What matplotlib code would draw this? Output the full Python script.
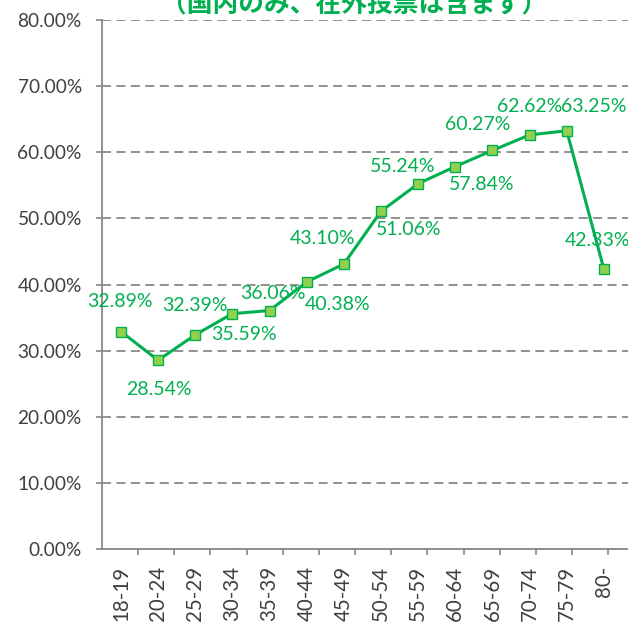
import numpy as np
import matplotlib.pyplot as plt
from matplotlib.ticker import FixedLocator

ages = ["18-19", "20-24", "25-29", "30-34", "35-39", "40-44", "45-49",
        "50-54", "55-59", "60-64", "65-69", "70-74", "75-79", "80-"]
turnout = [32.89, 28.54, 32.39, 35.59, 36.06, 40.38, 43.10,
           51.06, 55.24, 57.84, 60.27, 62.62, 63.25, 42.33]
title = "（国内のみ、在外投票は含まず）"

# label offsets from each marker, in pixels (right, down)
label_dx = [-1, 1, 0, 12, 3, 31, -21, 28, -15, 26, -15, 0, 27, -6]
label_dy = [-30, 29, -29, 21, -17, 23, -26, 18, -17, 18, -26, -28, -24, -29]

green = "#00B050"
light = "#92D050"
grey = "#888888"
txt = "#404040"
px = 0.72  # points per pixel at 100 dpi

plt.rcParams['font.family'] = ['Lato', 'DejaVu Sans']

fig = plt.figure(figsize=(6.28, 6.30), dpi=100)
ax = fig.add_axes([102 / 628, 1 - 549 / 630, 526 / 628, 529 / 630])

x = np.arange(len(ages))
ax.plot(x, turnout, color=green, lw=2.2, marker='s', ms=7.5,
        mfc=light, mec=green, mew=1, zorder=3, clip_on=False)

for xi, v, dx, dy in zip(x, turnout, label_dx, label_dy):
    ax.annotate(f"{v:.2f}%", (xi, v), xytext=(dx * px, -dy * px), textcoords='offset points',
                ha='center', va='center', color=green, fontsize=14, annotation_clip=False)

ax.set_ylim(0, 80)
ax.set_xlim(-0.51, 13.65)
ax.set_yticks(np.arange(0, 81, 10))
ax.set_yticklabels([f"{t:.2f}%" for t in np.arange(0, 81, 10)], color=txt, fontsize=13.8)
ax.yaxis.grid(True, color=grey, ls=(0, (5, 3)), lw=1.3)
ax.set_axisbelow(True)

ax.set_xticks(x)
ax.set_xticklabels(ages, rotation=90, color=txt, fontsize=14.8)
ax.xaxis.set_minor_locator(FixedLocator(np.linspace(-0.511, 13.117, 15)))
ax.tick_params(axis='x', which='major', length=0, pad=12)
ax.tick_params(axis='x', which='minor', length=4.5, color=grey, width=1.2)
ax.tick_params(axis='y', length=4.5, color=grey, width=1.2, pad=10)

for side in ['top', 'right']:
    ax.spines[side].set_visible(False)
for side in ['left', 'bottom']:
    ax.spines[side].set_color(grey)
    ax.spines[side].set_linewidth(1.3)

fig.text(354 / 628, 1 - 4 / 630, title, ha='center', va='center', color=green,
         fontsize=18.5, fontweight='bold', family=['Noto Sans CJK JP', 'DejaVu Sans'])

fig.savefig("out.png", dpi=100)
